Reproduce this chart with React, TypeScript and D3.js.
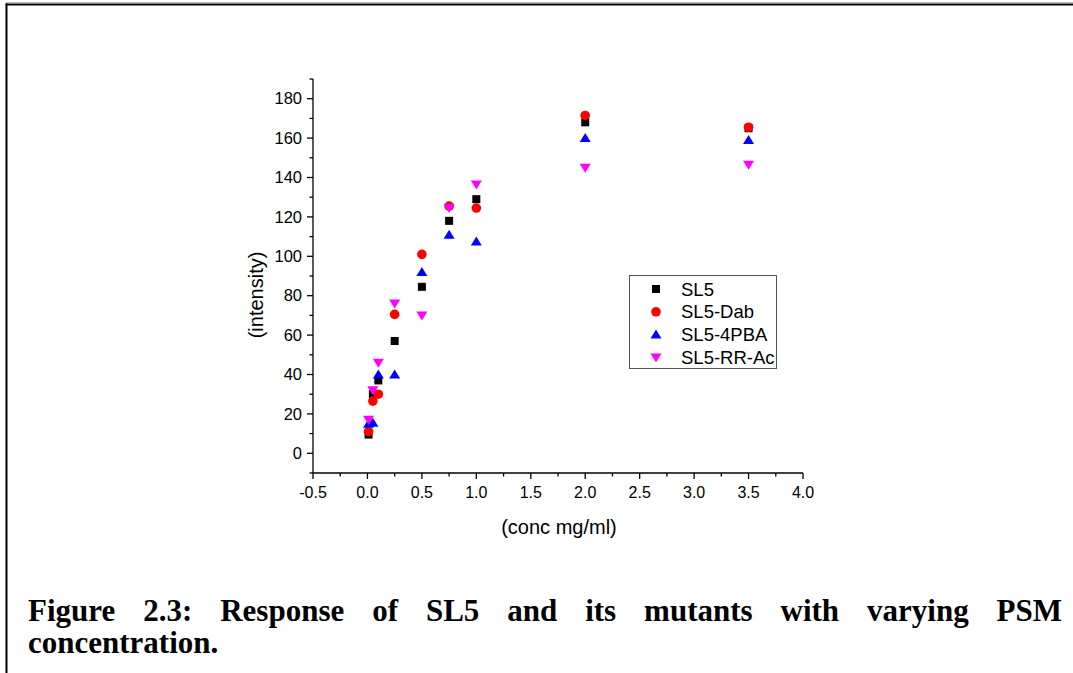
import React, { useLayoutEffect, useRef, useState } from 'react';
import * as d3 from 'd3';

const concentrations = [0.01, 0.05, 0.1, 0.25, 0.5, 0.75, 1.0, 2.0, 3.5];
const sl5 = [9.5, 30, 37, 57, 84.5, 118, 129, 168, 165];
const sl5Dab = [11, 26.5, 30, 70.5, 101, 125.5, 124.5, 171.5, 165.5];
const sl5Pba = [15, 15.5, 40, 40, 92, 111, 107.5, 160, 159];
const sl5RrAc = [17, 32, 46, 76, 70, 124.5, 136.5, 145, 146.5];
const seriesNames = ['SL5', 'SL5-Dab', 'SL5-4PBA', 'SL5-RR-Ac'];
const xTickValues = [-0.5, 0, 0.5, 1.0, 1.5, 2.0, 2.5, 3.0, 3.5, 4.0];
const yTickValues = [0, 20, 40, 60, 80, 100, 120, 140, 160, 180];
const xTitle = '(conc mg/ml)';
const yTitle = '(intensity)';
const captionLine1 = 'Figure 2.3: Response of SL5 and its mutants with varying PSM';
const captionLine2 = 'concentration.';

const W = 1073;
const H = 673;
const colors = ['#000000', '#ff0000', '#0000ff', '#ff00ff'];
const shapes = ['square', 'circle', 'up', 'down'];

function Marker({ shape, cx, cy, color }: { shape: string; cx: number; cy: number; color: string }) {
  if (shape === 'square') return <rect x={cx - 4} y={cy - 4} width={8} height={8} fill={color} />;
  if (shape === 'circle') return <circle cx={cx} cy={cy} r={4.8} fill={color} />;
  if (shape === 'up')
    return <path d={`M${cx},${cy - 5} L${cx + 5.5},${cy + 4} L${cx - 5.5},${cy + 4} Z`} fill={color} />;
  return <path d={`M${cx},${cy + 5} L${cx + 5.5},${cy - 4} L${cx - 5.5},${cy - 4} Z`} fill={color} />;
}

export default function App() {
  const x = d3.scaleLinear().domain([-0.5, 4.0]).range([313, 803]);
  const y = d3.scaleLinear().domain([-10, 190]).range([473, 79]);
  const fmt = (v: number) => d3.format('.1f')(v).replace('\u2212', '-');
  const xMinor = d3.range(-0.25, 4.0, 0.5);
  const yMinor = d3.range(-10, 191, 20);
  const data = [sl5, sl5Dab, sl5Pba, sl5RrAc];

  const capRef = useRef<SVGTextElement>(null);
  const [wordSpacing, setWordSpacing] = useState(0);
  useLayoutEffect(() => {
    if (capRef.current) {
      const natural = capRef.current.getComputedTextLength();
      const spaces = captionLine1.split(' ').length - 1;
      const target = 1062 - 28;
      setWordSpacing((target - natural) / spaces);
    }
  }, []);

  const sans = '"Liberation Sans", Arial, sans-serif';
  const serif = '"Liberation Serif", "Times New Roman", serif';

  return (
    <svg width={W} height={H} style={{ position: 'absolute', left: 0, top: 0, background: '#fff' }}>
      <rect x={0} y={0} width={W} height={H} fill="#fff" />
      {/* frame */}
      <line x1={6} x2={W} y1={2.5} y2={2.5} stroke="#bbbbbb" strokeWidth={1} />
      <line x1={5.5} x2={W} y1={4.5} y2={4.5} stroke="#000" strokeWidth={2} />
      <line x1={6.5} x2={6.5} y1={3.5} y2={H} stroke="#000" strokeWidth={2} />

      {/* axes */}
      <line x1={313} x2={313} y1={79} y2={473} stroke="#000" strokeWidth={1.3} />
      <line x1={313} x2={803} y1={473} y2={473} stroke="#000" strokeWidth={1.3} />
      {yTickValues.map((v) => (
        <g key={'yt' + v}>
          <line x1={307} x2={313} y1={y(v)} y2={y(v)} stroke="#000" strokeWidth={1.3} />
          <text x={302} y={y(v)} dy="0.35em" textAnchor="end" fontFamily={sans} fontSize={16.5} fill="#000">
            {v}
          </text>
        </g>
      ))}
      {yMinor.map((v) => (
        <line key={'ym' + v} x1={309.5} x2={313} y1={y(v)} y2={y(v)} stroke="#000" strokeWidth={1.3} />
      ))}
      {xTickValues.map((v) => (
        <g key={'xt' + v}>
          <line x1={x(v)} x2={x(v)} y1={473} y2={479} stroke="#000" strokeWidth={1.3} />
          <text x={x(v)} y={498} textAnchor="middle" fontFamily={sans} fontSize={16} fill="#000">
            {fmt(v)}
          </text>
        </g>
      ))}
      {xMinor.map((v) => (
        <line key={'xm' + v} x1={x(v)} x2={x(v)} y1={473} y2={476.5} stroke="#000" strokeWidth={1.3} />
      ))}
      <text x={559} y={534} textAnchor="middle" fontFamily={sans} fontSize={20} fill="#000">
        {xTitle}
      </text>
      <text
        transform={`translate(263,295) rotate(-90)`}
        textAnchor="middle"
        fontFamily={sans}
        fontSize={20}
        fill="#000"
      >
        {yTitle}
      </text>

      {/* points */}
      {data.map((series, si) => (
        <g key={'s' + si}>
          {series.map((v, i) => (
            <Marker key={i} shape={shapes[si]} cx={x(concentrations[i])} cy={y(v)} color={colors[si]} />
          ))}
        </g>
      ))}

      {/* legend */}
      <rect x={629.5} y={275.5} width={147} height={93} fill="#fff" stroke="#555" strokeWidth={1} />
      {seriesNames.map((name, i) => (
        <g key={'lg' + i}>
          <Marker shape={shapes[i]} cx={656} cy={289 + i * 22.8} color={colors[i]} />
          <text x={681} y={289 + i * 22.8} dy="0.36em" fontFamily={sans} fontSize={18.5} fill="#000">
            {name}
          </text>
        </g>
      ))}

      {/* caption */}
      <text
        ref={capRef}
        x={28}
        y={621}
        fontFamily={serif}
        fontWeight="bold"
        fontSize={31}
        wordSpacing={wordSpacing}
        fill="#000"
      >
        {captionLine1}
      </text>
      <text x={28} y={653} fontFamily={serif} fontWeight="bold" fontSize={31} fill="#000">
        {captionLine2}
      </text>
    </svg>
  );
}
